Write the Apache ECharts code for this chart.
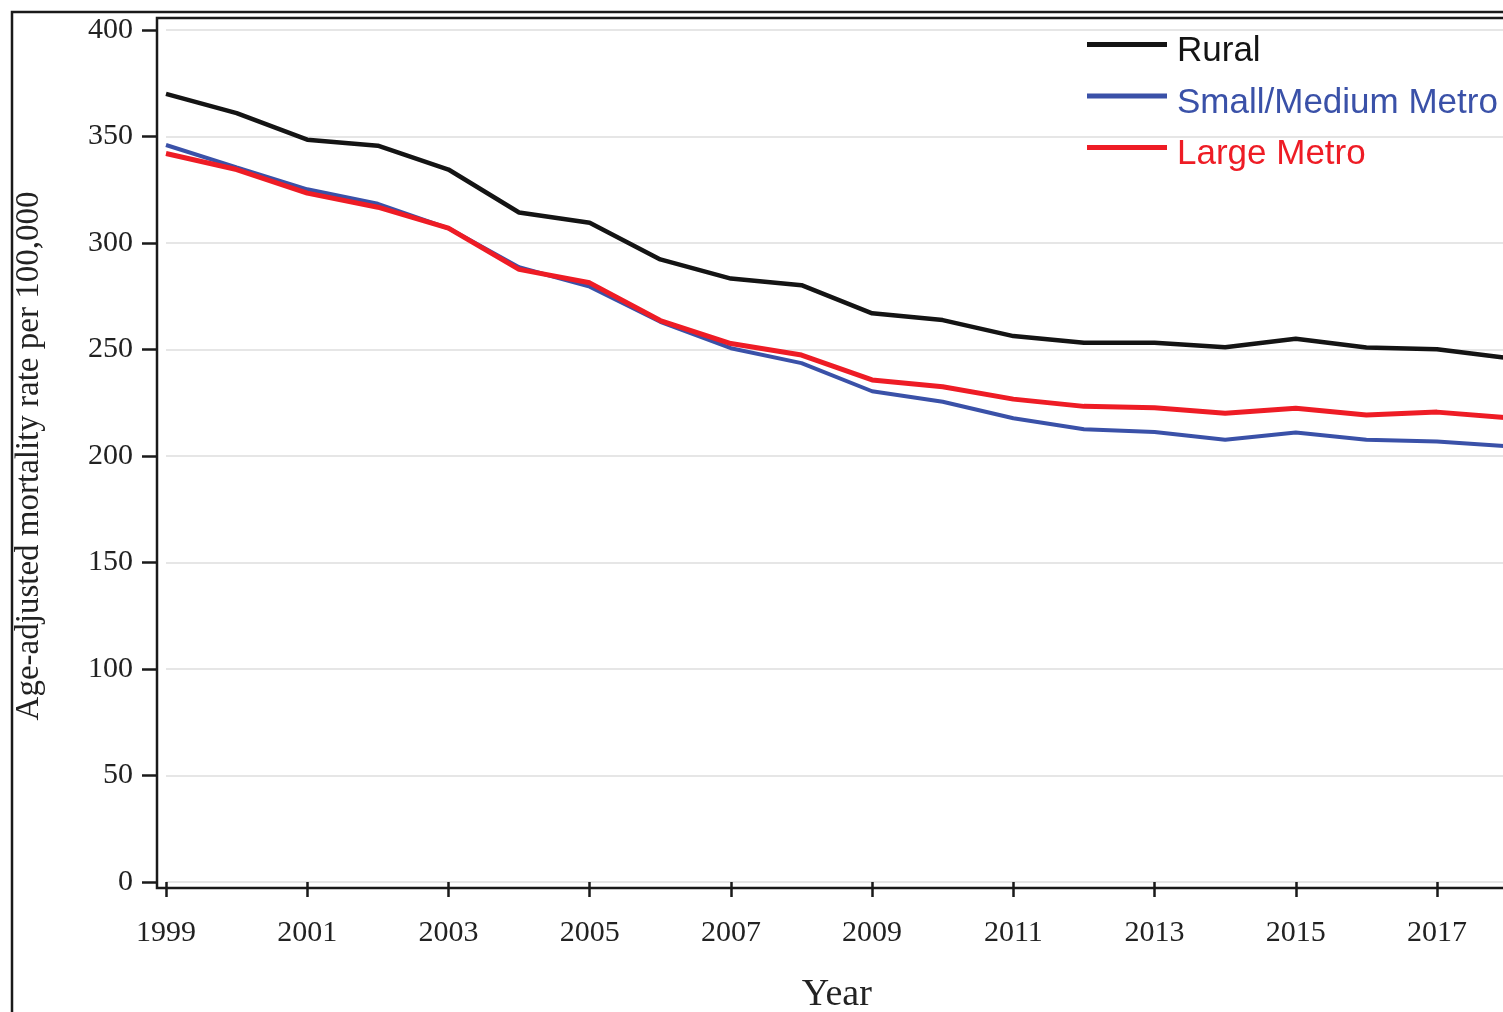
<!DOCTYPE html>
<html>
<head>
<meta charset="utf-8">
<title>Age-adjusted mortality rate by urbanization</title>
<script src="https://cdn.jsdelivr.net/npm/echarts@6/dist/echarts.min.js"></script>
<style>
  html, body { margin: 0; padding: 0; background: #fff; overflow: hidden; }
  #chart { width: 1560px; height: 1012px; }
</style>
</head>
<body>
<div id="chart"></div>
<script>
// Years on the horizontal axis
const years = ['1999','2000','2001','2002','2003','2004','2005','2006','2007','2008',
               '2009','2010','2011','2012','2013','2014','2015','2016','2017','2018'];

// Age-adjusted mortality rate per 100,000
const rural = [370, 361, 348.5, 345.7, 334.5, 314.3, 309.5, 292.3, 283.3, 280.2,
               267, 263.8, 256.3, 253.2, 253.2, 251.1, 255, 250.9, 250.1, 246];
const smallMediumMetro = [346, 335.5, 325.2, 318.4, 306.9, 288.6, 279.5, 263, 250.6, 243.6,
                          230.4, 225.5, 217.7, 212.6, 211.3, 207.6, 211, 207.6, 206.8, 204.6];
const largeMetro = [342, 334.5, 323.4, 316.8, 307, 287.6, 281.3, 263.6, 252.8, 247.4,
                    235.7, 232.5, 226.7, 223.3, 222.6, 220.1, 222.4, 219.3, 220.6, 218];

const seriesNames = ['Rural', 'Small/Medium Metro', 'Large Metro'];
const seriesColors = ['#141414', '#3a51a8', '#ee1c25'];
const seriesWidths = [4.5, 4, 5];
const seriesValues = [rural, smallMediumMetro, largeMetro];

// Value-axis ticks
const yMin = 0, yMax = 400, yStep = 50;

const serif = '"Liberation Serif", "Times New Roman", serif';
const sans = '"Liberation Sans", Arial, sans-serif';

const chart = echarts.init(document.getElementById('chart'), null, { renderer: 'canvas' });

chart.setOption({
  backgroundColor: '#ffffff',
  animation: false,
  grid: { left: 166, right: 52.4, top: 30, bottom: 130, containLabel: false,
          outerBoundsMode: 'none' },
  graphic: [
    // outer figure border
    { type: 'rect', silent: true, z: 100,
      shape: { x: 12, y: 12, width: 2000, height: 2000 },
      style: { fill: 'none', stroke: '#1a1a1a', lineWidth: 2.5 } },
    // plot frame
    { type: 'rect', silent: true, z: 100,
      shape: { x: 157, y: 18, width: 1500, height: 870 },
      style: { fill: 'none', stroke: '#1a1a1a', lineWidth: 2.5 } }
  ],
  legend: {
    orient: 'vertical',
    left: 1087,
    top: 20,
    padding: 0,
    itemWidth: 80,
    itemHeight: 5,
    itemGap: 2.5,
    icon: 'rect',
    selectedMode: false,
    formatter: '{t|{name}}',
    textStyle: {
      fontFamily: sans, fontSize: 35,
      rich: { t: { fontFamily: sans, fontSize: 35, lineHeight: 40, padding: [14, 0, 0, 5] } }
    },
    data: seriesNames.map((n, i) => ({
      name: n,
      itemStyle: { color: seriesColors[i] },
      textStyle: { color: seriesColors[i] }
    }))
  },
  xAxis: {
    type: 'category',
    data: years,
    boundaryGap: false,
    offset: 6,
    name: 'Year',
    nameLocation: 'middle',
    nameGap: 88,
    nameTextStyle: { fontFamily: serif, fontSize: 38, color: '#222' },
    axisLine: { show: false },
    axisTick: { show: true, interval: 1, length: 15, inside: false,
                lineStyle: { color: '#1a1a1a', width: 2.5 } },
    axisLabel: { interval: 1, margin: 30, fontFamily: serif, fontSize: 30, color: '#222' },
    splitLine: { show: false }
  },
  yAxis: {
    type: 'value',
    min: yMin,
    max: yMax,
    interval: yStep,
    offset: 9,
    name: 'Age-adjusted mortality rate per 100,000',
    nameLocation: 'middle',
    nameRotate: 90,
    nameGap: 111,
    nameTextStyle: { fontFamily: serif, fontSize: 33, color: '#222' },
    axisLine: { show: false },
    axisTick: { show: true, length: 15, inside: false,
                lineStyle: { color: '#1a1a1a', width: 2.5 } },
    axisLabel: { margin: 24, fontFamily: serif, fontSize: 30, color: '#222' },
    splitLine: { show: true, lineStyle: { color: '#e6e6e6', width: 2 } }
  },
  series: seriesNames.map((n, i) => ({
    name: n,
    type: 'line',
    data: seriesValues[i],
    showSymbol: false,
    symbol: 'none',
    lineStyle: { color: seriesColors[i], width: seriesWidths[i] },
    itemStyle: { color: seriesColors[i] },
    z: 3
  }))
});
</script>
</body>
</html>
